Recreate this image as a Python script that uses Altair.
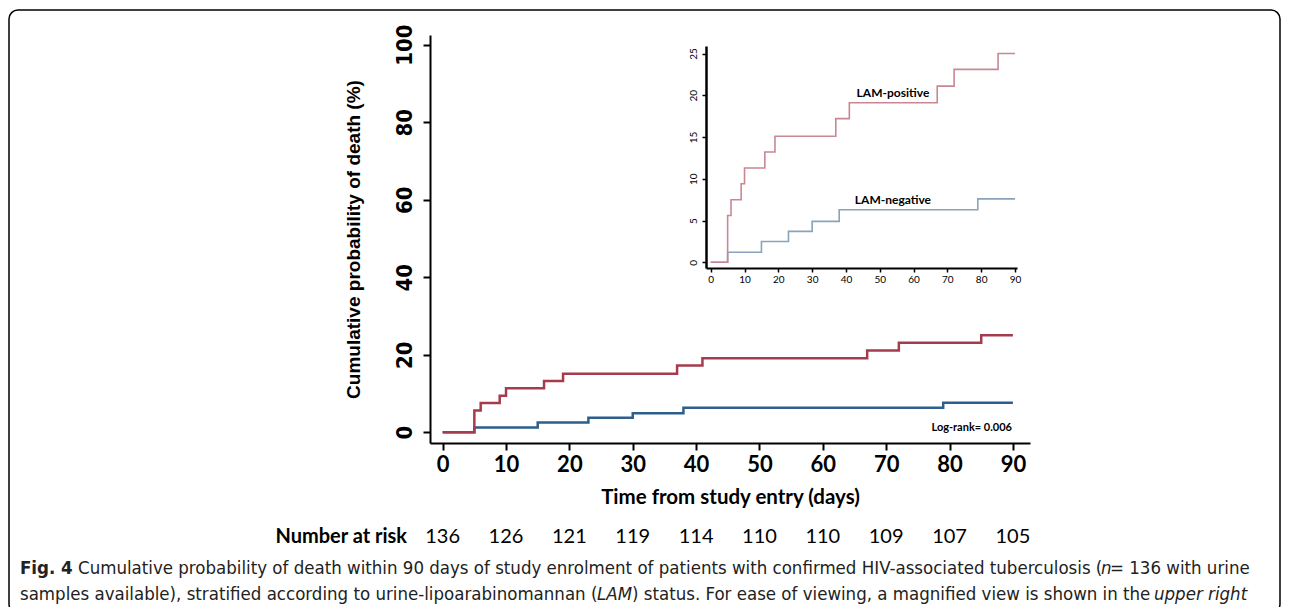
import altair as alt
import pandas as pd

# ---------------- data ----------------
pos_days = [0, 5, 6, 9, 10, 16, 19, 37, 41, 67, 72, 85, 90]
pos_vals = [0, 5.6, 7.5, 9.4, 11.3, 13.2, 15.1, 17.2, 19.1, 21.1, 23.1, 25.0, 25.0]
neg_days = [0, 5, 15, 23, 30, 38, 79, 90]
neg_vals = [0, 1.2, 2.5, 3.7, 4.9, 6.3, 7.6, 7.6]

risk_days = [0, 10, 20, 30, 40, 50, 60, 70, 80, 90]
risk_counts = [136, 126, 121, 119, 114, 110, 110, 109, 107, 105]

main_x_ticks = [0, 10, 20, 30, 40, 50, 60, 70, 80, 90]
main_y_ticks = [0, 20, 40, 60, 80, 100]
inset_y_ticks = [0, 5, 10, 15, 20, 25]

group_labels = ["LAM-positive", "LAM-negative"]
group_label_x = [53.9, 53.9]
group_label_y = [20.25, 7.45]

caption_texts = [
    "Fig. 4",
    "Cumulative probability of death within 90 days of study enrolment of patients with confirmed HIV-associated tuberculosis (",
    "n", " = 136 with urine",
    "samples available), stratified according to urine-lipoarabinomannan (",
    "LAM", ") status. For ease of viewing, a magnified view is shown in the ",
    "upper right",
]
caption_styles = ["b", "n", "i", "n", "n", "i", "n", "i"]
caption_x = [-410, -352, 671, 680, -410, 167, 202, 724]
caption_y = [533, 533, 533, 533, 559, 559, 559, 559]

pos_df = pd.DataFrame({"day": pos_days, "val": pos_vals, "grp": "LAM-positive"})
neg_df = pd.DataFrame({"day": neg_days, "val": neg_vals, "grp": "LAM-negative"})
risk_df = pd.DataFrame({"day": risk_days, "n": risk_counts})
lab_df = pd.DataFrame({"label": group_labels, "x": group_label_x, "y": group_label_y})
lr_df = pd.DataFrame({"x": [83.5], "y": [1.0], "t": ["Log-rank= 0.006"]})

RED, BLUE = "#a53c4e", "#2d5e8e"
RED_L, BLUE_L = "#c98793", "#88a3bb"
CAL = "Lato"
NARROW = "Liberation Sans Narrow, Arial Narrow, DejaVu Sans Condensed"

W, H = 600, 408

# ---------------- main plot ----------------
mx = alt.Scale(domain=[-2.0, 92.7], nice=False, zero=False)
my = alt.Scale(domain=[-2.8, 102.5], nice=False, zero=False)

x_axis = alt.Axis(values=main_x_ticks, title="Time from study entry (days)", grid=False,
                  domain=True, ticks=True, labels=True,
                  domainColor="black", domainWidth=2, tickColor="black", tickWidth=2, tickSize=7,
                  labelFont=CAL, labelFontSize=22, labelFontWeight="bold", labelColor="black",
                  labelPadding=4, titleFont=CAL, titleFontSize=20.5, titleFontWeight="bold",
                  titleColor="black", titlePadding=12)
y_axis = alt.Axis(values=main_y_ticks, title="Cumulative probability of death (%)", grid=False,
                  domain=True, ticks=True, labels=True,
                  domainColor="black", domainWidth=2, tickColor="black", tickWidth=2, tickSize=7,
                  labelFont=NARROW, labelFontSize=22, labelFontWeight="bold", labelColor="black",
                  labelAngle=270, labelAlign="center", labelBaseline="bottom", labelPadding=7,
                  titleFont="Liberation Sans", titleFontSize=19, titleFontWeight="bold",
                  titleColor="black", titlePadding=30)

neg_main = alt.Chart(neg_df).mark_line(interpolate="step-after", color=BLUE, strokeWidth=2.5).encode(
    x=alt.X("day:Q", scale=mx, axis=x_axis),
    y=alt.Y("val:Q", scale=my, axis=y_axis),
)
pos_main = alt.Chart(pos_df).mark_line(interpolate="step-after", color=RED, strokeWidth=2.5).encode(
    x=alt.X("day:Q", scale=mx, axis=x_axis),
    y=alt.Y("val:Q", scale=my, axis=y_axis),
)
logrank = alt.Chart(lr_df).mark_text(font=CAL, fontSize=11, fontWeight="bold", color="black").encode(
    x=alt.X("x:Q", scale=mx, axis=x_axis), y=alt.Y("y:Q", scale=my, axis=y_axis), text="t:N")

risk_nums = alt.Chart(risk_df).mark_text(font=CAL, fontSize=20, color="black", baseline="middle").encode(
    x=alt.X("day:Q", scale=mx, axis=x_axis), y=alt.value(502), text="n:Q")
risk_label = alt.Chart(pd.DataFrame({"t": ["Number at risk"]})).mark_text(
    font=CAL, fontSize=20, fontWeight="bold", color="black", align="right", baseline="middle").encode(
    x=alt.value(-23), y=alt.value(502), text="t:N")

cap_layers = []
for t, s, cx, cy in zip(caption_texts, caption_styles, caption_x, caption_y):
    kw = dict(font=NARROW, fontSize=18.5, color="#222222", align="left", baseline="middle")
    if s == "b":
        kw["fontWeight"] = "bold"
    if s == "i":
        kw["fontStyle"] = "italic"
    cap_layers.append(
        alt.Chart(pd.DataFrame({"t": [t]})).mark_text(**kw).encode(
            x=alt.value(cx), y=alt.value(cy), text="t:N"))

frame = alt.Chart(pd.DataFrame({"a": [0]})).mark_rect(
    fill="transparent", stroke="black", strokeWidth=1.5, cornerRadius=9).encode(
    x=alt.value(-421), x2=alt.value(850), y=alt.value(-25), y2=alt.value(578))

main = alt.layer(frame, neg_main, pos_main, logrank, risk_nums, risk_label, *cap_layers)

# ---------------- inset ----------------
ix = alt.Scale(domain=[-1.4, 90.6], range=[276, 587], nice=False, zero=False)
iy = alt.Scale(domain=[-0.68, 25.9], range=[233, 11], nice=False, zero=False)

ix_axis = alt.Axis(values=main_x_ticks, orient="bottom", offset=-175, title=None, grid=False,
                   domain=True, ticks=True, labels=True,
                   domainColor="black", domainWidth=2, tickColor="black", tickWidth=1.5, tickSize=4,
                   labelFont=CAL, labelFontSize=10, labelColor="black", labelPadding=2)
iy_axis = alt.Axis(values=inset_y_ticks, orient="left", offset=-276, title=None, grid=False,
                   domain=True, ticks=True, labels=True,
                   domainColor="black", domainWidth=2.5, tickColor="black", tickWidth=1.5, tickSize=4,
                   labelFont=CAL, labelFontSize=10, labelColor="black", labelAngle=270,
                   labelAlign="center", labelBaseline="bottom", labelPadding=4)

neg_in = alt.Chart(neg_df).mark_line(interpolate="step-after", color=BLUE_L, strokeWidth=1.6).encode(
    x=alt.X("day:Q", scale=ix, axis=ix_axis),
    y=alt.Y("val:Q", scale=iy, axis=iy_axis),
)
pos_in = alt.Chart(pos_df).mark_line(interpolate="step-after", color=RED_L, strokeWidth=1.6).encode(
    x=alt.X("day:Q", scale=ix, axis=ix_axis), y=alt.Y("val:Q", scale=iy, axis=iy_axis))
labels_in = alt.Chart(lab_df).mark_text(font=CAL, fontSize=12, fontWeight="bold", color="black").encode(
    x=alt.X("x:Q", scale=ix, axis=ix_axis), y=alt.Y("y:Q", scale=iy, axis=iy_axis), text="label:N")

inset = alt.layer(neg_in, pos_in, labels_in)

chart = alt.layer(main, inset).resolve_scale(x="independent", y="independent").properties(
    width=W, height=H,
    background="white",
    autosize=alt.AutoSizeParams(type="none"),
    padding={"left": 422, "top": 27, "right": 252, "bottom": 164},
).configure_view(stroke="white", strokeWidth=0, fill="white").configure_axis(
    grid=False, domain=False, ticks=False, labels=False)

chart.save("out.html", embed_options={"renderer": "svg", "actions": False})
